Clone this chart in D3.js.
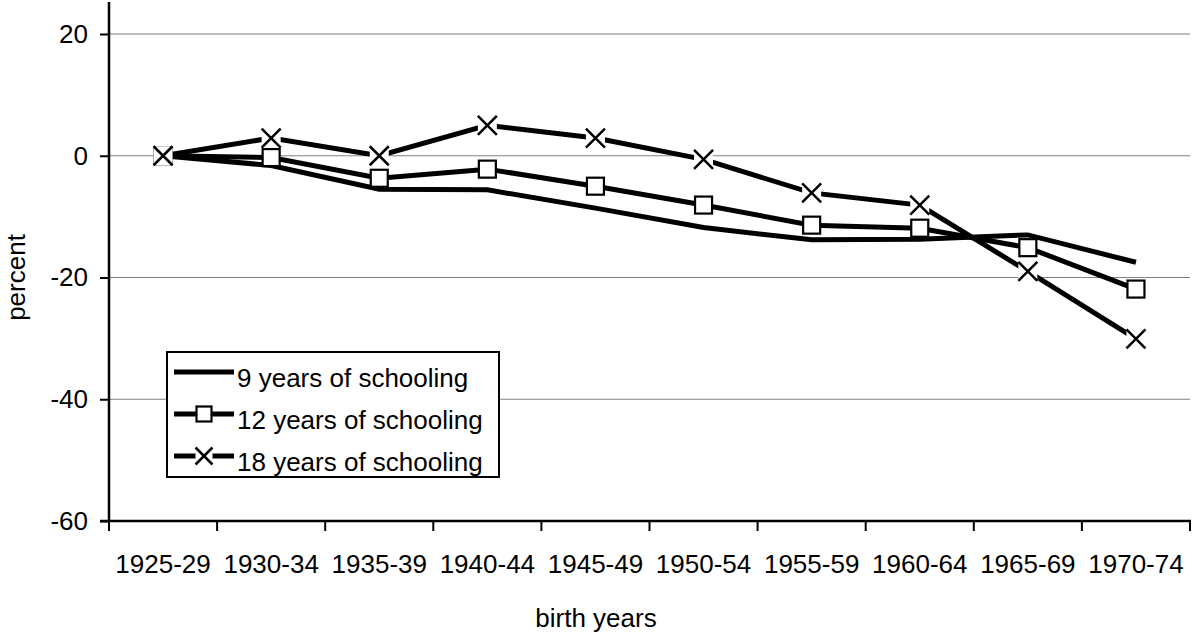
<!DOCTYPE html>
<html><head><meta charset="utf-8">
<script src="https://cdn.jsdelivr.net/npm/d3@7"></script>
<style>
html,body{margin:0;padding:0;background:#fff;}
svg{display:block;font-family:"Liberation Sans",Arial,sans-serif;}
</style></head>
<body>
<svg id="chart" width="1192" height="636"></svg>
<script>
const categories = ["1925-29","1930-34","1935-39","1940-44","1945-49","1950-54","1955-59","1960-64","1965-69","1970-74"];
const nineYears = [0, -1.6, -5.5, -5.6, -8.6, -11.8, -13.8, -13.7, -13.0, -17.5];
const twelveYears = [0, -0.3, -3.7, -2.2, -5.0, -8.1, -11.4, -11.9, -15.1, -21.9];
const eighteenYears = [0, 2.9, 0, 5.0, 2.9, -0.6, -6.1, -8.1, -19.0, -30.1];
const yTicks = [20, 0, -20, -40, -60];
const seriesNames = ["9 years of schooling","12 years of schooling","18 years of schooling"];

(function () {
const svg = d3.select("#chart");
const mLeft = 109, mRight = 1190, mTop = 34, mBottom = 521;
const x = d3.scaleBand().domain(categories).range([mLeft, mRight]);
const y = d3.scaleLinear().domain([-60, 20]).range([mBottom, mTop]);
const FS = 26;

// gridlines
svg.append("g").selectAll("line").data(yTicks.filter(d => d > -60)).join("line")
  .attr("x1", mLeft).attr("x2", mRight)
  .attr("y1", d => y(d)).attr("y2", d => y(d))
  .attr("stroke", "#808080").attr("stroke-width", 1.2);

// y axis
const yAxis = svg.append("g").attr("transform", `translate(${mLeft},0)`)
  .call(d3.axisLeft(y).tickValues(yTicks).tickSize(9).tickPadding(12).tickFormat(d => String(d)));
yAxis.select(".domain").remove();
yAxis.selectAll(".tick line").attr("stroke", "#000").attr("stroke-width", 2);
yAxis.selectAll("text").attr("font-size", FS).attr("font-family", "Liberation Sans, Arial").attr("fill", "#000");
svg.append("line").attr("x1", mLeft).attr("x2", mLeft).attr("y1", 2).attr("y2", mBottom + 1)
  .attr("stroke", "#000").attr("stroke-width", 2.5);

// x axis
const xAxis = svg.append("g").attr("transform", `translate(0,${mBottom})`)
  .call(d3.axisBottom(x).tickSize(0).tickPadding(34));
xAxis.select(".domain").remove();
xAxis.selectAll("text").attr("font-size", FS).attr("font-family", "Liberation Sans, Arial").attr("fill", "#000");
svg.append("line").attr("x1", mLeft - 9).attr("x2", mRight + 1).attr("y1", mBottom).attr("y2", mBottom)
  .attr("stroke", "#000").attr("stroke-width", 2.5);
const boundaries = d3.range(categories.length + 1).map(i => mLeft + i * x.step());
svg.append("g").selectAll("line").data(boundaries).join("line")
  .attr("x1", d => d).attr("x2", d => d).attr("y1", mBottom).attr("y2", mBottom + 10)
  .attr("stroke", "#000").attr("stroke-width", 2);

// axis titles
svg.append("text").attr("x", 596).attr("y", 627).attr("text-anchor", "middle")
  .attr("font-size", FS).text("birth years");
svg.append("text").attr("transform", `translate(25,${y(-20)}) rotate(-90)`).attr("text-anchor", "middle")
  .attr("font-size", FS).text("percent");

const cx = (d, i) => x(categories[i]) + x.bandwidth() / 2;
const line = d3.line().x((d, i) => cx(d, i)).y(d => y(d));

function drawSeries(vals) {
  svg.append("path").datum(vals).attr("d", line)
    .attr("fill", "none").attr("stroke", "#000").attr("stroke-width", 5).attr("stroke-linejoin", "miter");
}
function square(g, px, py, s) {
  g.append("rect").attr("x", px - s / 2).attr("y", py - s / 2).attr("width", s).attr("height", s)
    .attr("fill", "#fff").attr("stroke", "#000").attr("stroke-width", 2.2);
}
function cross(g, px, py, s, bg) {
  if (bg) g.append("rect").attr("x", px - s / 2).attr("y", py - s / 2).attr("width", s).attr("height", s).attr("fill", "#fff");
  const h = s / 2;
  g.append("path").attr("d", `M${px - h},${py - h}L${px + h},${py + h}M${px - h},${py + h}L${px + h},${py - h}`)
    .attr("stroke", "#000").attr("stroke-width", 2.5).attr("fill", "none");
}

drawSeries(nineYears);
drawSeries(twelveYears);
const sq = svg.append("g");
twelveYears.forEach((v, i) => square(sq, cx(v, i), y(v), 17));
drawSeries(eighteenYears);
const cr = svg.append("g");
eighteenYears.forEach((v, i) => cross(cr, cx(v, i), y(v), 19, true));

// legend
const lg = svg.append("g");
lg.append("rect").attr("x", 167).attr("y", 352).attr("width", 332).attr("height", 125)
  .attr("fill", "#fff").attr("stroke", "#000").attr("stroke-width", 2);
const rowsY = [372, 414, 456];
seriesNames.forEach((name, i) => {
  const ry = rowsY[i];
  lg.append("line").attr("x1", 174).attr("x2", 234).attr("y1", ry).attr("y2", ry)
    .attr("stroke", "#000").attr("stroke-width", 5);
  if (i === 1) square(lg, 204, ry, 15);
  if (i === 2) cross(lg, 204, ry, 17, true);
  lg.append("text").attr("x", 237).attr("y", ry + 15).attr("font-size", FS).text(name);
});
})();
</script>
</body></html>
